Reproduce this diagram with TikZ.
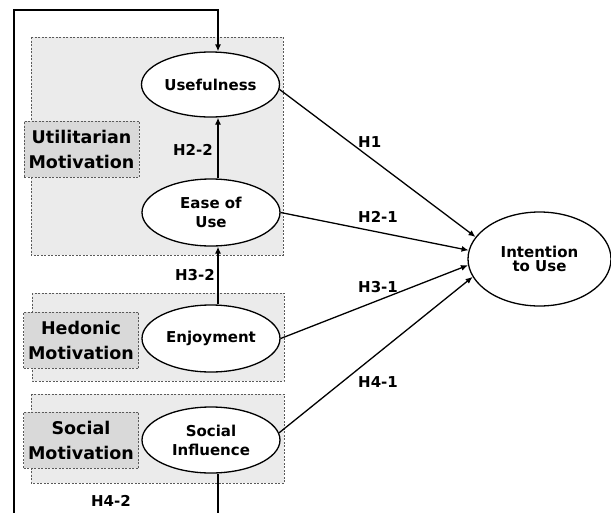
\documentclass[tikz,border=0pt]{standalone}
\usepackage{fontspec}
\setmainfont{DejaVu Sans}
\usetikzlibrary{arrows.meta,shapes.geometric}
\definecolor{grpfill}{HTML}{EBEBEB}
\definecolor{labfill}{HTML}{D9D9D9}
\definecolor{dashc}{HTML}{5A5A5A}
\begin{document}
\begin{tikzpicture}[x=1pt,y=-1pt,
  grp/.style={draw=dashc,dash pattern=on 2pt off 1.5pt,fill=grpfill,line width=0.6pt},
  lab/.style={draw=dashc,dash pattern=on 2pt off 1.5pt,fill=labfill,line width=0.6pt,align=center,
    font=\bfseries\fontsize{17.5}{25}\selectfont,inner sep=0pt,minimum width=115pt,minimum height=56pt},
  cons/.style={ellipse,draw,line width=1.3pt,fill=white,inner sep=0pt,align=center,
    font=\bfseries\fontsize{15}{19}\selectfont,minimum width=138pt,minimum height=66pt},
  link/.style={line width=1.3pt,-{Latex[length=7pt,width=6pt]}},
  plain/.style={line width=1.3pt},
  hyp/.style={font=\bfseries\fontsize{15}{18}\selectfont,inner sep=0pt}]
\useasboundingbox (0,0) rectangle (611,512);
% group boxes
\path[grp] (31,37) rectangle (283,255);
\path[grp] (32,293) rectangle (284,381);
\path[grp] (31,394) rectangle (284,483);
% group labels
\node[lab] (ulab) at (81.5,149) {Utilitarian\\Motivation};
\node[lab] (hlab) at (81,340) {Hedonic\\Motivation};
\node[lab] (slab) at (81,440) {Social\\Motivation};
% constructs
\node[cons,minimum height=65pt] (use) at (210.5,84.5) {Usefulness};
\node[cons,minimum height=67pt] (eou) at (211,212.5) {Ease of\\Use};
\node[cons,minimum height=67pt] (enj) at (211,338.5) {Enjoyment};
\node[cons] (si) at (211,440) {Social\\Influence};
\node[cons,minimum width=143pt,minimum height=94pt,font=\bfseries\fontsize{15}{14}\selectfont] (int) at (539.5,259) {Intention\\to Use};
% feedback loop
\coordinate (fbtl) at (14,10);
\coordinate (fbtr) at (218,10);
\coordinate (fbbl) at (14,515);
\coordinate (fbbr) at (218,515);
\draw[link] (fbbl) -- (fbtl) -- (fbtr) -- (fbtr |- use.north);
\draw[plain] (fbbr |- si.south) -- (fbbr);
% vertical links
\draw[link] (fbbr |- eou.north) -- (fbbr |- use.south);
\draw[link] (fbbr |- enj.north) -- (fbbr |- eou.south);
% links to intention
\draw[link] (use.-4) -- (int.161);
\draw[link] (eou.east) -- (int.173.5);
\draw[link] (enj.east) -- (int.185.6);
\draw[link] (si.6) -- (int.195);
% hypothesis labels
\node[hyp,anchor=west] (h1) at (358,142) {H1};
\node[hyp,anchor=west] (h21) at (358,217) {H2-1};
\node[hyp,anchor=west] (h31) at (358,287) {H3-1};
\node[hyp,anchor=west] (h41) at (358,382) {H4-1};
\node[hyp,anchor=east] (h22) at (213,150) {H2-2};
\node[hyp,anchor=east] (h32) at (215,275.5) {H3-2};
\node[hyp] (h42) at (111,500.5) {H4-2};
\end{tikzpicture}
\end{document}
